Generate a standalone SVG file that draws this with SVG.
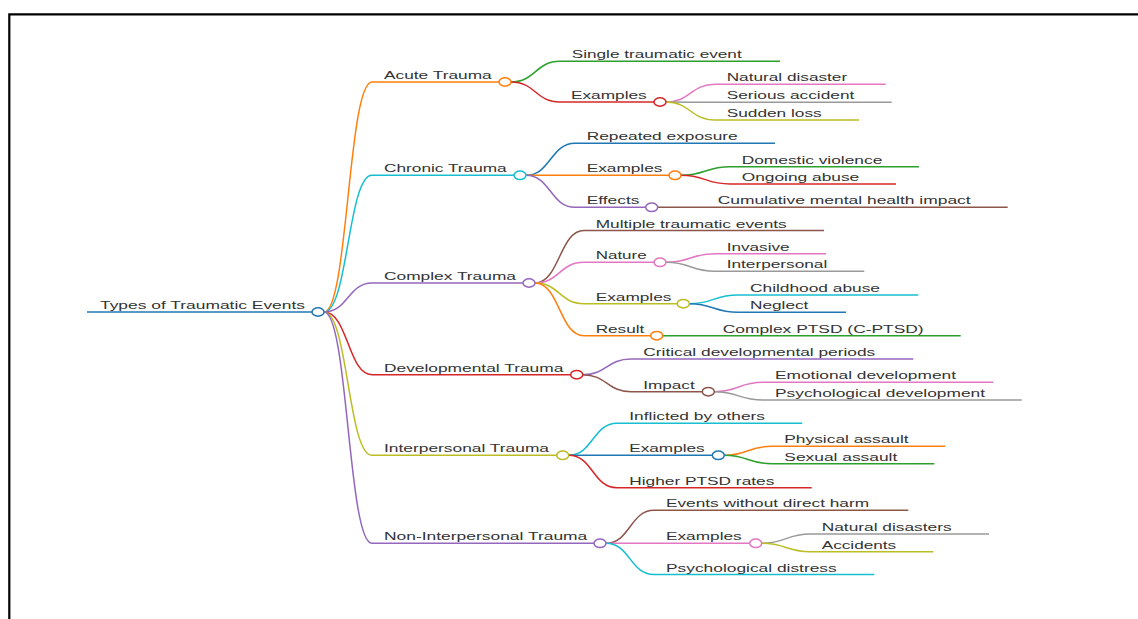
<svg xmlns="http://www.w3.org/2000/svg" width="1138" height="619" viewBox="0 0 1138 619">
<style>
text{font-family:"Liberation Sans",Arial,sans-serif;font-size:11.6px;fill:#333}
.l{fill:none;stroke-width:1.5}
.c{fill:#fff;stroke-width:1.5}
.blue{stroke:#1f77b4}.orange{stroke:#ff7f0e}.green{stroke:#2ca02c}.red{stroke:#d62728}.purple{stroke:#9467bd}
.brown{stroke:#8c564b}.pink{stroke:#e377c2}.gray{stroke:#999}.olive{stroke:#bcbd22}.cyan{stroke:#17becf}
</style>
<rect width="1138" height="619" fill="#fff"/>
<path d="M9.3 619 V14.3 H1138" fill="none" stroke="#000" stroke-width="2.2"/>
<g id="connectors">
<path class="l orange" d="M324 312 C348 312 348 82 372 82"/>
<path class="l cyan" d="M324 312 C348 312 348 175.3 372 175.3"/>
<path class="l purple" d="M324 312 C348 312 348 283 372 283"/>
<path class="l red" d="M324 312 C348 312 348 374.7 372 374.7"/>
<path class="l olive" d="M324 312 C348 312 348 455.3 372 455.3"/>
<path class="l purple" d="M324 312 C348 312 348 543.3 372 543.3"/>
<path class="l green" d="M511 82 C535.5 82 535.5 61.3 560 61.3"/>
<path class="l red" d="M511 82 C535.5 82 535.5 102 560 102"/>
<path class="l pink" d="M666 102 C690.5 102 690.5 84.3 715 84.3"/>
<path class="l gray" d="M666 102 C690.5 102 690.5 102.3 715 102.3"/>
<path class="l olive" d="M666 102 C690.5 102 690.5 120 715 120"/>
<path class="l blue" d="M526 175.3 C550.5 175.3 550.5 143.3 575 143.3"/>
<path class="l orange" d="M526 175.3 C550.5 175.3 550.5 175.3 575 175.3"/>
<path class="l purple" d="M526 175.3 C550.5 175.3 550.5 207.3 575 207.3"/>
<path class="l green" d="M681 175.3 C705.5 175.3 705.5 166.7 730 166.7"/>
<path class="l red" d="M681 175.3 C705.5 175.3 705.5 184 730 184"/>
<path class="l brown" d="M657.7 207.3 C682 207.3 682 207.3 706 207.3"/>
<path class="l brown" d="M535 283 C559.5 283 559.5 230.5 584 230.5"/>
<path class="l pink" d="M535 283 C559.5 283 559.5 262.3 584 262.3"/>
<path class="l olive" d="M535 283 C559.5 283 559.5 303.7 584 303.7"/>
<path class="l orange" d="M535 283 C559.5 283 559.5 335.7 584 335.7"/>
<path class="l pink" d="M666 262.3 C690.5 262.3 690.5 253.7 715 253.7"/>
<path class="l gray" d="M666 262.3 C690.5 262.3 690.5 271.3 715 271.3"/>
<path class="l cyan" d="M689.3 303.7 C713.6 303.7 713.6 295 738 295"/>
<path class="l blue" d="M689.3 303.7 C713.6 303.7 713.6 312.3 738 312.3"/>
<path class="l green" d="M662.7 335.7 C687 335.7 687 335.7 711 335.7"/>
<path class="l purple" d="M582.7 374.7 C606.8 374.7 606.8 359 631 359"/>
<path class="l brown" d="M582.7 374.7 C606.8 374.7 606.8 391.7 631 391.7"/>
<path class="l pink" d="M714.3 391.7 C738.6 391.7 738.6 382.3 763 382.3"/>
<path class="l gray" d="M714.3 391.7 C738.6 391.7 738.6 400 763 400"/>
<path class="l cyan" d="M568.7 455.3 C592.8 455.3 592.8 423.3 617 423.3"/>
<path class="l blue" d="M568.7 455.3 C592.8 455.3 592.8 455.3 617 455.3"/>
<path class="l red" d="M568.7 455.3 C592.8 455.3 592.8 487.7 617 487.7"/>
<path class="l orange" d="M724.3 455.3 C748 455.3 748 446.3 772 446.3"/>
<path class="l green" d="M724.3 455.3 C748 455.3 748 463.7 772 463.7"/>
<path class="l brown" d="M606 543.3 C630 543.3 630 510.3 654 510.3"/>
<path class="l pink" d="M606 543.3 C630 543.3 630 543.3 654 543.3"/>
<path class="l cyan" d="M606 543.3 C630 543.3 630 574.5 654 574.5"/>
<path class="l gray" d="M761.7 543.3 C786 543.3 786 534 810 534"/>
<path class="l olive" d="M761.7 543.3 C786 543.3 786 551.7 810 551.7"/>
</g>
<g id="n-root"><path class="l blue" d="M87 312 H312"/><ellipse class="c blue" cx="318" cy="312" rx="6" ry="4.2"/><text x="100" y="309" textLength="205" lengthAdjust="spacingAndGlyphs">Types of Traumatic Events</text></g>
<g id="n-acute"><path class="l orange" d="M372 82 H499"/><ellipse class="c orange" cx="505" cy="82" rx="6" ry="4.2"/><text x="384" y="79" textLength="107.7" lengthAdjust="spacingAndGlyphs">Acute Trauma</text></g>
<g id="n-acute-single"><path class="l green" d="M560 61.3 H780"/><text x="571.7" y="58.3" textLength="170" lengthAdjust="spacingAndGlyphs">Single traumatic event</text></g>
<g id="n-acute-examples"><path class="l red" d="M560 102 H654"/><ellipse class="c red" cx="660" cy="102" rx="6" ry="4.2"/><text x="571" y="99" textLength="75.7" lengthAdjust="spacingAndGlyphs">Examples</text></g>
<g id="n-natural-disaster"><path class="l pink" d="M715 84.3 H885.7"/><text x="726.7" y="81.3" textLength="120.5" lengthAdjust="spacingAndGlyphs">Natural disaster</text></g>
<g id="n-serious-accident"><path class="l gray" d="M715 102.3 H891.7"/><text x="726.7" y="99.3" textLength="127.6" lengthAdjust="spacingAndGlyphs">Serious accident</text></g>
<g id="n-sudden-loss"><path class="l olive" d="M715 120 H859"/><text x="726.7" y="117" textLength="95" lengthAdjust="spacingAndGlyphs">Sudden loss</text></g>
<g id="n-chronic"><path class="l cyan" d="M372 175.3 H514"/><ellipse class="c cyan" cx="520" cy="175.3" rx="6" ry="4.2"/><text x="384" y="172.3" textLength="122.7" lengthAdjust="spacingAndGlyphs">Chronic Trauma</text></g>
<g id="n-repeated"><path class="l blue" d="M575 143.3 H775"/><text x="586.7" y="140.3" textLength="151" lengthAdjust="spacingAndGlyphs">Repeated exposure</text></g>
<g id="n-chronic-examples"><path class="l orange" d="M575 175.3 H669"/><ellipse class="c orange" cx="675" cy="175.3" rx="6" ry="4.2"/><text x="586.7" y="172.3" textLength="75.7" lengthAdjust="spacingAndGlyphs">Examples</text></g>
<g id="n-effects"><path class="l purple" d="M575 207.3 H645.7"/><ellipse class="c purple" cx="651.7" cy="207.3" rx="6" ry="4.2"/><text x="586.7" y="204.3" textLength="52.7" lengthAdjust="spacingAndGlyphs">Effects</text></g>
<g id="n-domestic"><path class="l green" d="M730 166.7 H919"/><text x="741.7" y="163.7" textLength="140.6" lengthAdjust="spacingAndGlyphs">Domestic violence</text></g>
<g id="n-ongoing"><path class="l red" d="M730 184 H896"/><text x="741.7" y="181" textLength="117.6" lengthAdjust="spacingAndGlyphs">Ongoing abuse</text></g>
<g id="n-cumulative"><path class="l brown" d="M706 207.3 H1007.7"/><text x="717.7" y="204.3" textLength="253" lengthAdjust="spacingAndGlyphs">Cumulative mental health impact</text></g>
<g id="n-complex"><path class="l purple" d="M372 283 H523"/><ellipse class="c purple" cx="529" cy="283" rx="6" ry="4.2"/><text x="384" y="280" textLength="132" lengthAdjust="spacingAndGlyphs">Complex Trauma</text></g>
<g id="n-multiple"><path class="l brown" d="M584 230.5 H824"/><text x="595.7" y="227.5" textLength="191" lengthAdjust="spacingAndGlyphs">Multiple traumatic events</text></g>
<g id="n-nature"><path class="l pink" d="M584 262.3 H654"/><ellipse class="c pink" cx="660" cy="262.3" rx="6" ry="4.2"/><text x="595.7" y="259.3" textLength="51" lengthAdjust="spacingAndGlyphs">Nature</text></g>
<g id="n-complex-examples"><path class="l olive" d="M584 303.7 H677.3"/><ellipse class="c olive" cx="683.3" cy="303.7" rx="6" ry="4.2"/><text x="595.7" y="300.7" textLength="75.7" lengthAdjust="spacingAndGlyphs">Examples</text></g>
<g id="n-result"><path class="l orange" d="M584 335.7 H650.7"/><ellipse class="c orange" cx="656.7" cy="335.7" rx="6" ry="4.2"/><text x="595.7" y="332.7" textLength="48.6" lengthAdjust="spacingAndGlyphs">Result</text></g>
<g id="n-invasive"><path class="l pink" d="M715 253.7 H826"/><text x="726.7" y="250.7" textLength="62.9" lengthAdjust="spacingAndGlyphs">Invasive</text></g>
<g id="n-interpersonal-leaf"><path class="l gray" d="M715 271.3 H864.3"/><text x="726.7" y="268.3" textLength="100.6" lengthAdjust="spacingAndGlyphs">Interpersonal</text></g>
<g id="n-childhood"><path class="l cyan" d="M738 295 H918.3"/><text x="750" y="292" textLength="130" lengthAdjust="spacingAndGlyphs">Childhood abuse</text></g>
<g id="n-neglect"><path class="l blue" d="M738 312.3 H846"/><text x="750" y="309.3" textLength="58.4" lengthAdjust="spacingAndGlyphs">Neglect</text></g>
<g id="n-cptsd"><path class="l green" d="M711 335.7 H960.7"/><text x="722.7" y="332.7" textLength="201" lengthAdjust="spacingAndGlyphs">Complex PTSD (C-PTSD)</text></g>
<g id="n-developmental"><path class="l red" d="M372 374.7 H570.7"/><ellipse class="c red" cx="576.7" cy="374.7" rx="6" ry="4.2"/><text x="384" y="371.7" textLength="179.3" lengthAdjust="spacingAndGlyphs">Developmental Trauma</text></g>
<g id="n-critical"><path class="l purple" d="M631 359 H913.3"/><text x="643.3" y="356" textLength="232" lengthAdjust="spacingAndGlyphs">Critical developmental periods</text></g>
<g id="n-impact"><path class="l brown" d="M631 391.7 H702.3"/><ellipse class="c brown" cx="708.3" cy="391.7" rx="6" ry="4.2"/><text x="643.3" y="388.7" textLength="51.4" lengthAdjust="spacingAndGlyphs">Impact</text></g>
<g id="n-emotional"><path class="l pink" d="M763 382.3 H993.3"/><text x="775" y="379.3" textLength="181" lengthAdjust="spacingAndGlyphs">Emotional development</text></g>
<g id="n-psychological-dev"><path class="l gray" d="M763 400 H1021.7"/><text x="775" y="397" textLength="210" lengthAdjust="spacingAndGlyphs">Psychological development</text></g>
<g id="n-interpersonal"><path class="l olive" d="M372 455.3 H556.7"/><ellipse class="c olive" cx="562.7" cy="455.3" rx="6" ry="4.2"/><text x="384" y="452.3" textLength="165" lengthAdjust="spacingAndGlyphs">Interpersonal Trauma</text></g>
<g id="n-inflicted"><path class="l cyan" d="M617 423.3 H802.3"/><text x="629.3" y="420.3" textLength="135.7" lengthAdjust="spacingAndGlyphs">Inflicted by others</text></g>
<g id="n-interp-examples"><path class="l blue" d="M617 455.3 H712.3"/><ellipse class="c blue" cx="718.3" cy="455.3" rx="6" ry="4.2"/><text x="629.3" y="452.3" textLength="75.3" lengthAdjust="spacingAndGlyphs">Examples</text></g>
<g id="n-higher"><path class="l red" d="M617 487.7 H811.7"/><text x="629.3" y="484.7" textLength="145" lengthAdjust="spacingAndGlyphs">Higher PTSD rates</text></g>
<g id="n-physical"><path class="l orange" d="M772 446.3 H945"/><text x="784.3" y="443.3" textLength="124.4" lengthAdjust="spacingAndGlyphs">Physical assault</text></g>
<g id="n-sexual"><path class="l green" d="M772 463.7 H934.3"/><text x="784.3" y="460.7" textLength="113" lengthAdjust="spacingAndGlyphs">Sexual assault</text></g>
<g id="n-non"><path class="l purple" d="M372 543.3 H594"/><ellipse class="c purple" cx="600" cy="543.3" rx="6" ry="4.2"/><text x="384" y="540.3" textLength="203.3" lengthAdjust="spacingAndGlyphs">Non-Interpersonal Trauma</text></g>
<g id="n-events"><path class="l brown" d="M654 510.3 H908.3"/><text x="666" y="507.3" textLength="203" lengthAdjust="spacingAndGlyphs">Events without direct harm</text></g>
<g id="n-non-examples"><path class="l pink" d="M654 543.3 H749.7"/><ellipse class="c pink" cx="755.7" cy="543.3" rx="6" ry="4.2"/><text x="666" y="540.3" textLength="75.7" lengthAdjust="spacingAndGlyphs">Examples</text></g>
<g id="n-psych-distress"><path class="l cyan" d="M654 574.5 H874.3"/><text x="666" y="571.5" textLength="170.7" lengthAdjust="spacingAndGlyphs">Psychological distress</text></g>
<g id="n-natural-disasters"><path class="l gray" d="M810 534 H989"/><text x="821.7" y="531" textLength="130" lengthAdjust="spacingAndGlyphs">Natural disasters</text></g>
<g id="n-accidents"><path class="l olive" d="M810 551.7 H933.3"/><text x="821.7" y="548.7" textLength="74.5" lengthAdjust="spacingAndGlyphs">Accidents</text></g>
</svg>
